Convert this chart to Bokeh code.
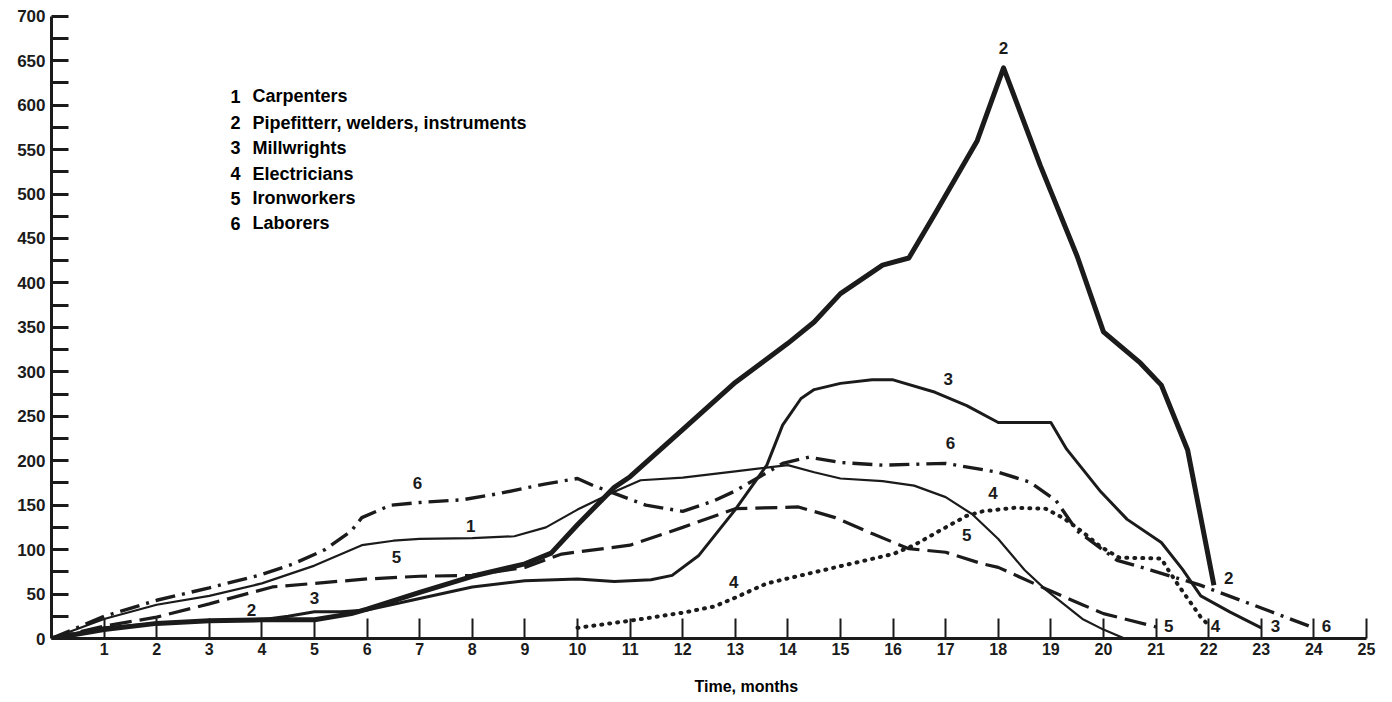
from bokeh.plotting import figure
from bokeh.models import Range1d, FixedTicker, Title
from bokeh.core.properties import value
from bokeh.embed import file_html
from bokeh.resources import INLINE

# ---------------- data (months, workers) ----------------
carp_m = [0, 1, 2, 3, 4, 5, 5.9, 6.5, 7, 8, 8.8, 9.4, 10, 10.7, 11.2, 12, 13, 14, 14.5, 15, 15.8, 16.4, 17, 17.5, 18, 18.5, 18.9, 19.6, 20, 20.4]
carp_v = [0, 22, 38, 48, 62, 82, 105, 110, 112, 113, 115, 125, 145, 165, 178, 181, 188, 195, 187, 180, 177, 172, 159, 140, 112, 77, 55, 22, 10, 0]

pipe_m = [0, 1, 2, 3, 4, 5, 5.7, 6, 7, 8, 9, 9.5, 10, 10.7, 11, 12, 13, 14, 14.5, 15, 15.8, 16.3, 16.8, 17.6, 18.1, 18.8, 19.5, 20, 20.7, 21.1, 21.6, 22.1]
pipe_v = [0, 10, 17, 20, 21, 21, 28, 33, 52, 70, 84, 96, 128, 170, 182, 235, 288, 332, 356, 388, 420, 428, 478, 560, 642, 532, 430, 345, 310, 285, 212, 60]

mill_m = [0, 1, 2, 3, 4, 4.5, 5, 5.5, 6, 7, 8, 9, 10, 10.7, 11.4, 11.8, 12.3, 13, 13.6, 13.9, 14.25, 14.5, 15, 15.6, 16, 16.8, 17.4, 18, 19, 19.3, 19.95, 20.45, 21.1, 21.5, 21.85, 22.4, 23]
mill_v = [0, 12, 17, 20, 21, 25, 30, 30, 32, 45, 58, 65, 67, 64, 66, 71, 93, 145, 195, 240, 270, 280, 287, 291, 291, 277, 262, 243, 243, 213, 165, 134, 108, 78, 48, 30, 12]

elec_m = [10, 11, 12, 12.6, 13, 13.6, 14.9, 16, 16.4, 17, 17.4, 17.7, 18.3, 18.9, 19.25, 19.6, 19.95, 20.3, 21.1, 21.2, 21.4, 21.85, 22]
elec_v = [12, 20, 29, 36, 46, 62, 80, 95, 105, 125, 138, 143, 147, 146, 135, 120, 103, 91, 90, 80, 62, 24, 15]

iron_m = [0, 1, 2, 3, 4.2, 5, 6, 7, 8, 9, 9.7, 11, 12, 13, 14.2, 14.9, 15.6, 16.3, 17, 17.7, 18, 18.9, 19.6, 20, 21]
iron_v = [0, 14, 24, 39, 58, 62, 67, 70, 71, 80, 95, 105, 125, 146, 148, 136, 118, 101, 97, 84, 80, 56, 38, 28, 13]

labo_m = [0, 1, 2, 3, 4, 4.6, 5.2, 5.7, 5.9, 6.45, 7, 7.8, 8.5, 9.4, 10, 10.3, 11.3, 12, 12.6, 13, 13.9, 14.4, 15, 15.8, 17, 18, 18.6, 19.1, 19.5, 20.26, 20.9, 21.84, 22.7, 24]
labo_v = [0, 25, 43, 57, 72, 84, 100, 121, 136, 150, 153, 156, 163, 174, 180, 172, 150, 143, 155, 166, 197, 204, 198, 195, 197, 187, 176, 155, 121, 88, 77, 60, 41, 12]

legend_nums = ["1", "2", "3", "4", "5", "6"]
legend_names = ["Carpenters", "Pipefitterr, welders, instruments", "Millwrights",
                "Electricians", "Ironworkers", "Laborers"]
legend_rows = [610, 580, 552, 523, 495, 467]

curve_lbl_x = [6.96, 7.97, 6.56, 3.8, 5.0, 12.97, 17.05, 17.09, 17.9, 17.4, 18.1, 22.38, 21.24, 22.13, 23.27, 24.24]
curve_lbl_y = [175, 127, 92, 32, 46, 63, 292, 220, 164, 116, 664, 68, 14, 14, 14, 14]
curve_lbl_t = ["6", "1", "5", "2", "3", "4", "3", "6", "4", "5", "2", "2", "5", "4", "3", "6"]

x_ticks = list(range(1, 26))
y_ticks = list(range(0, 701, 50))
y_minor = list(range(25, 700, 50))
x_title = "Time, months"

INK = "#1b1b1b"
FONT = "'Liberation Sans', Arial, sans-serif"
NARROW = "'Liberation Sans Narrow', 'Liberation Sans', sans-serif"

p = figure(frame_width=1336, frame_height=630, x_range=Range1d(0, 25.4), y_range=Range1d(0, 708.7),
           output_backend="svg", toolbar_location=None,
           min_border_left=51, min_border_right=1, min_border_top=8, min_border_bottom=58)
p.outline_line_color = None
p.xgrid.visible = False
p.ygrid.visible = False
p.background_fill_color = "white"
p.border_fill_color = "white"

xa = p.xaxis[0]
xa.ticker = FixedTicker(ticks=x_ticks)
xa.bounds = (0, 25)
xa.axis_line_width = 3
xa.axis_line_color = INK
xa.major_tick_in = 20
xa.major_tick_out = 0
xa.major_tick_line_width = 2
xa.major_tick_line_color = INK
xa.minor_tick_line_color = None
xa.major_label_text_font = NARROW
xa.major_label_text_font_style = "bold"
xa.major_label_text_font_size = "16px"
xa.major_label_text_color = INK
xa.major_label_standoff = 4

ya = p.yaxis[0]
ya.ticker = FixedTicker(ticks=y_ticks, minor_ticks=y_minor)
ya.bounds = (0, 700)
ya.axis_line_width = 3
ya.axis_line_color = INK
ya.major_tick_in = 17
ya.major_tick_out = 0
ya.minor_tick_in = 17
ya.minor_tick_out = 0
ya.major_tick_line_width = 3
ya.minor_tick_line_width = 3
ya.major_tick_line_color = INK
ya.minor_tick_line_color = INK
ya.major_label_text_font = FONT
ya.major_label_text_font_style = "bold"
ya.major_label_text_font_size = "17px"
ya.major_label_text_color = INK
ya.major_label_standoff = 6

# x-axis title, below the tick labels, placed as in the original
p.add_layout(Title(text=x_title, align="left", offset=643, standoff=37,
                   text_font=FONT, text_font_size="16px", text_font_style="bold",
                   text_color="black"), "below")

# curves
p.line(carp_m, carp_v, line_color=INK, line_width=2.2, line_join="round")
p.line(iron_m, iron_v, line_color=INK, line_width=3.2, line_dash="22 8")
p.line(labo_m, labo_v, line_color=INK, line_width=3.4, line_dash="20 7 3 7")
p.line(elec_m, elec_v, line_color=INK, line_width=4, line_dash="1 7", line_cap="round")
p.line(mill_m, mill_v, line_color=INK, line_width=3, line_join="round")
p.line(pipe_m, pipe_v, line_color=INK, line_width=5, line_join="round")

# curve labels
p.text(x=curve_lbl_x, y=curve_lbl_y, text=curve_lbl_t, text_align="center", text_baseline="middle",
       text_font=value(FONT), text_font_size="17px", text_font_style="bold", text_color=INK)

# legend block
p.text(x=[3.5] * len(legend_nums), y=legend_rows, text=legend_nums, text_align="center",
       text_baseline="middle", text_font=value(FONT), text_font_size="18px",
       text_font_style="bold", text_color="black")
p.text(x=[3.82] * len(legend_names), y=legend_rows, text=legend_names, text_align="left",
       text_baseline="middle", text_font=value(FONT), text_font_size="18px",
       text_font_style="bold", text_color="black")

open("out.html", "w").write(file_html(p, INLINE))
